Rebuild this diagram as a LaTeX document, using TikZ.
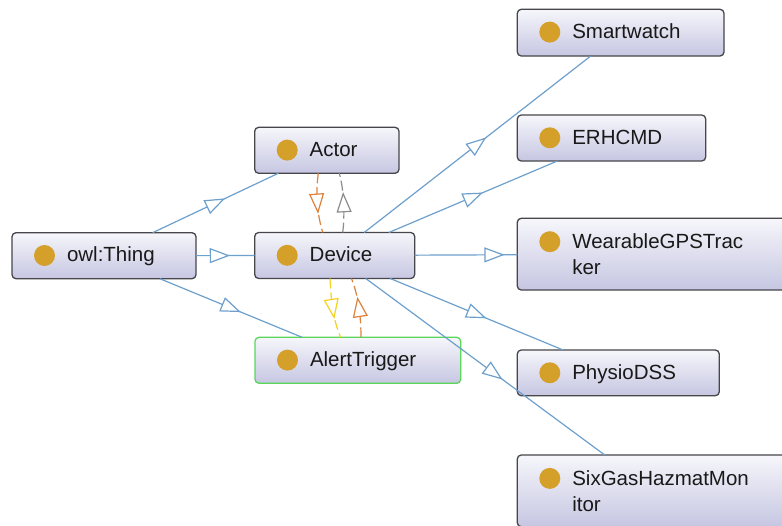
\documentclass[tikz,border=0pt]{standalone}
\usepackage{fontspec}
\setmainfont{Liberation Sans}
\usetikzlibrary{calc,decorations.markings}
\definecolor{gold}{RGB}{212,160,42}
\definecolor{edgeblue}{RGB}{110,160,205}
\definecolor{boxborder}{RGB}{70,70,75}
\definecolor{boxtop}{RGB}{246,246,251}
\definecolor{boxbot}{RGB}{198,198,226}
\definecolor{txt}{RGB}{25,25,25}
\definecolor{selgreen}{RGB}{90,215,90}
\definecolor{edgeorange}{RGB}{222,130,60}
\definecolor{edgeyellow}{RGB}{245,210,30}
\definecolor{edgegray}{RGB}{140,140,140}
\tikzset{
  cbox/.style={draw=boxborder, line width=1.3pt, rounded corners=4pt,
    top color=boxtop, bottom color=boxbot, outer sep=0pt, inner sep=0pt},
  lbl/.style={anchor=base west, inner sep=0pt, outer sep=0pt,
    font=\fontsize{20.5}{26}\selectfont, text=txt},
  midtri/.style={decorate, decoration={markings,
    mark=at position 0.5 with {\draw[solid, line width=1.2pt, fill=white, draw=#1]
      (9pt,0pt) -- (-9pt,6.8pt) -- (-9pt,-6.8pt) -- cycle;}}},
  sub/.style={draw=edgeblue, line width=1.2pt},
  arcedge/.style={line width=1.2pt, dash pattern=on 10pt off 4pt},
}
\newcommand\clsbox[7]{%
  \node[cbox,#6,minimum width=#4pt,minimum height=#5pt] (#1) at (#2,#3) {};
  \fill[gold] ($(#1.north west)+(32.5,22.8)$) circle[radius=10.5pt];
  \node[lbl] (#1-t) at ($(#1.north west)+(55,29)$) {#7};
}
\begin{document}
\begin{tikzpicture}[x=1pt,y=-1pt]
\fill[white] (0,0) rectangle (782,525);
\useasboundingbox (0,0) rectangle (782,525);
\clip (0,0) rectangle (782,525);

% class boxes
\clsbox{owl}{104}{255.7}{184}{46}{}{owl:Thing}
\clsbox{actor}{326.85}{150.3}{144.3}{46}{}{Actor}
\clsbox{device}{334.7}{255.5}{160}{46}{}{Device}
\clsbox{alert}{357.85}{360.3}{205.7}{46}{draw=selgreen}{AlertTrigger}
\clsbox{smart}{620.65}{32.65}{206.7}{46.7}{}{Smartwatch}
\clsbox{erhcmd}{611.5}{138}{188.4}{46}{}{ERHCMD}
\clsbox{physio}{618.3}{372.85}{202}{45.7}{}{PhysioDSS}

\node[cbox,minimum width=271.7pt,minimum height=71.7pt] (gps) at (653.15,254.15) {};
\fill[gold] ($(gps.north west)+(32.5,23.4)$) circle[radius=10.5pt];
\node[lbl] (gps-t) at ($(gps.north west)+(55,30.5)$) {WearableGPSTrac};
\node[lbl] (gps-t2) at ($(gps.north west)+(55,56.5)$) {ker};

\node[cbox,minimum width=271.7pt,minimum height=71.7pt] (six) at (653.15,490.85) {};
\fill[gold] ($(six.north west)+(32.5,23.4)$) circle[radius=10.5pt];
\node[lbl] (six-t) at ($(six.north west)+(55,30.5)$) {SixGasHazmatMon};
\node[lbl] (six-t2) at ($(six.north west)+(55,56.5)$) {itor};

% subclass edges
\foreach \a/\b in {owl/actor, owl/device, owl/alert,
    device/smart, device/erhcmd, device/gps, device/physio, device/six}{
  \draw[sub] (\a) -- (\b);
  \path[midtri=edgeblue] (\a.center) -- (\b.center);
}

% coloured arcs between Actor / Device / AlertTrigger
\draw[arcedge, edgeorange, postaction={midtri=edgeorange}] ($(actor.south west)+(63.6,0)$)
  .. controls (316,190) and (316,210) .. ($(device.north west)+(68,0)$);
\draw[arcedge, edgegray, postaction={midtri=edgegray}] ($(device.north west)+(88,0)$)
  .. controls (345,215) and (344,190) .. ($(actor.south west)+(84.6,0)$);
\draw[arcedge, edgeyellow, postaction={midtri=edgeyellow}] ($(device.south west)+(75.3,0)$)
  .. controls (331,300) and (333,320) .. ($(alert.north west)+(85.7,0)$);
\draw[arcedge, edgeorange, postaction={midtri=edgeorange}] ($(alert.north west)+(106,0)$)
  .. controls (361,315) and (358,295) .. ($(device.south west)+(96.8,0)$);
\end{tikzpicture}
\end{document}
